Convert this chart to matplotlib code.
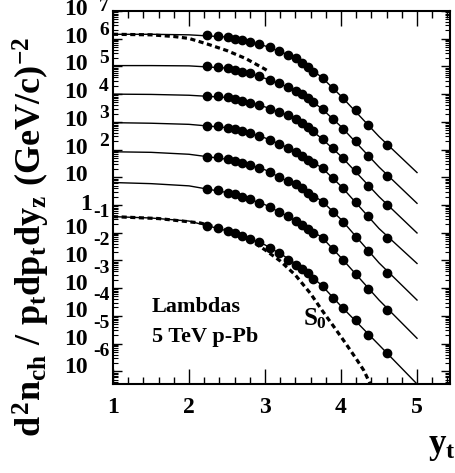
import numpy as np
import matplotlib
matplotlib.use("Agg")
import matplotlib.pyplot as plt
from matplotlib.ticker import MultipleLocator, LogLocator, NullFormatter

plt.rcParams['font.family'] = ['Liberation Serif', 'DejaVu Serif']
plt.rcParams['font.weight'] = 'bold'
plt.rcParams['mathtext.fontset'] = 'custom'
plt.rcParams['mathtext.rm'] = 'Liberation Serif:bold'
plt.rcParams['mathtext.it'] = 'Liberation Serif:bold'
plt.rcParams['mathtext.bf'] = 'Liberation Serif:bold'

# transverse rapidity of the data points (same bins for every spectrum)
yt_points = [2.24, 2.38, 2.51, 2.61, 2.70, 2.80, 2.92, 3.07, 3.18, 3.30,
             3.41, 3.49, 3.57, 3.63, 3.76, 3.89, 4.03, 4.20, 4.36, 4.61]

# log10 of the plotted (scaled) spectra, top to bottom
pts_1 = [6.12, 6.11, 6.05, 6.00, 5.95, 5.88, 5.81, 5.69, 5.56, 5.42,
         5.29, 5.14, 4.99, 4.80, 4.57, 4.22, 3.87, 3.43, 2.89, 2.15]
pts_2 = [5.01, 4.99, 4.94, 4.87, 4.81, 4.75, 4.64, 4.51, 4.39, 4.26,
         4.13, 4.01, 3.86, 3.72, 3.45, 3.11, 2.74, 2.31, 1.77, 1.05]
pts_3 = [3.94, 3.92, 3.88, 3.83, 3.77, 3.69, 3.61, 3.48, 3.36, 3.23,
         3.09, 2.95, 2.82, 2.67, 2.37, 2.05, 1.69, 1.26, 0.69, 0.00]
pts_4 = [2.85, 2.84, 2.79, 2.73, 2.67, 2.59, 2.50, 2.35, 2.20, 2.07,
         1.91, 1.77, 1.64, 1.53, 1.32, 0.96, 0.60, 0.12, -0.40, -1.20]
pts_5 = [1.74, 1.72, 1.65, 1.59, 1.53, 1.44, 1.35, 1.20, 1.02, 0.88,
         0.75, 0.60, 0.44, 0.30, 0.12, -0.25, -0.63, -1.14, -1.66, -2.44]
pts_6 = [0.57, 0.54, 0.44, 0.39, 0.30, 0.21, 0.08, -0.06, -0.24, -0.40,
         -0.57, -0.72, -0.88, -1.02, -1.20, -1.59, -1.99, -2.49, -3.03, -3.79]
pts_7 = [-0.76, -0.84, -0.94, -1.01, -1.12, -1.21, -1.34, -1.57, -1.75, -1.97,
         -2.17, -2.32, -2.47, -2.67, -2.92, -3.36, -3.71, -4.15, -4.69, -5.34]

# model curves (log10), sampled along y_t
yt_model = [1.0, 1.5, 2.0, 2.5, 2.75, 3.0, 3.25, 3.5, 3.75, 4.0, 4.5, 5.0]
fit_1 = [6.16, 6.16, 6.14, 6.06, 5.91, 5.74, 5.48, 5.12, 4.60, 3.93, 2.47, 1.17]
fit_2 = [5.03, 5.03, 5.02, 4.94, 4.78, 4.57, 4.31, 3.98, 3.47, 2.83, 1.37, 0.06]
fit_3 = [4.00, 3.99, 3.96, 3.88, 3.73, 3.54, 3.29, 2.94, 2.39, 1.76, 0.30, -1.01]
fit_4 = [2.97, 2.95, 2.91, 2.79, 2.63, 2.42, 2.13, 1.76, 1.34, 0.68, -0.85, -2.11]
fit_5 = [1.92, 1.90, 1.83, 1.65, 1.48, 1.27, 0.92, 0.56, 0.14, -0.52, -2.09, -3.43]
fit_6 = [0.81, 0.77, 0.69, 0.45, 0.25, 0.01, -0.34, -0.74, -1.17, -1.90, -3.43, -4.81]
fit_7 = [-0.42, -0.47, -0.58, -0.93, -1.16, -1.44, -1.84, -2.31, -2.91, -3.65, -5.05, -6.46]

# soft component S0 (dashed)
yt_s0_top = [1.0, 1.5, 1.8, 2.0, 2.25, 2.5, 2.75, 3.0, 3.04]
s0_top = [6.16, 6.14, 6.08, 6.01, 5.80, 5.57, 5.28, 4.90, 4.83]
yt_s0_bot = [1.0, 1.6, 2.15, 2.54, 2.80, 3.0, 3.2, 3.4, 3.6, 3.75, 3.9, 4.05, 4.2, 4.3, 4.4]
s0_bot = [-0.42, -0.49, -0.65, -0.94, -1.26, -1.62, -2.02, -2.53, -3.20, -3.80,
          -4.37, -4.95, -5.55, -5.97, -6.55]

y_exponents = [7, 6, 5, 4, 3, 2, 1, 0, -1, -2, -3, -4, -5, -6]

fig = plt.figure(figsize=(4.56, 4.73), dpi=100)
ax = fig.add_axes([113 / 456, 89 / 473, 337 / 456, 373 / 473])
ax.set_yscale('log')
ax.set_xlim(1, 5.434)
ax.set_ylim(10 ** -6.46, 1e7)

spectra = [pts_1, pts_2, pts_3, pts_4, pts_5, pts_6, pts_7]
fits = [fit_1, fit_2, fit_3, fit_4, fit_5, fit_6, fit_7]
for pts, fit in zip(spectra, fits):
    ax.plot(yt_model, 10 ** np.array(fit), color='black', lw=1.0)
    ax.plot(yt_points, 10 ** np.array(pts), 'o', color='black', ms=6.0, mec='black')

dash = (0, (1.6, 1.1))
ax.plot(yt_s0_top, 10 ** np.array(s0_top), color='black', lw=2.3, linestyle=dash)
ax.plot(yt_s0_bot, 10 ** np.array(s0_bot), color='black', lw=2.3, linestyle=dash)

# axes styling (ROOT look)
for sp in ax.spines.values():
    sp.set_linewidth(1.5)
ax.xaxis.set_major_locator(MultipleLocator(1))
ax.xaxis.set_minor_locator(MultipleLocator(0.2))
ax.yaxis.set_major_locator(LogLocator(base=10, numticks=30))
ax.yaxis.set_minor_locator(LogLocator(base=10, subs=np.arange(2, 10), numticks=30))
ax.yaxis.set_minor_formatter(NullFormatter())
ax.tick_params(axis='x', which='major', direction='in', top=True, length=10.8, width=1.0,
               labelsize=17, pad=9)
ax.tick_params(axis='x', which='minor', direction='in', top=True, length=5, width=1.0)
ax.tick_params(axis='y', which='major', direction='in', right=True, length=6.5, width=1.0,
               labelleft=False)
ax.tick_params(axis='y', which='minor', direction='in', right=True, length=3.6, width=0.8)
ax.set_xticks([1, 2, 3, 4, 5])
ax.set_xticklabels(['1', '2', '3', '4', '5'], fontweight='bold')

# y tick labels drawn as "10" plus a raised exponent
for n in y_exponents:
    yv = 10.0 ** n
    if n == 0:
        ax.annotate('1', xy=(0, yv), xycoords=('axes fraction', 'data'),
                    xytext=(-21, 0), textcoords='offset pixels',
                    ha='right', va='center', fontsize=17, fontweight='bold')
        continue
    dy = 1.5 if n > 0 else 4
    ax.annotate('10', xy=(0, yv), xycoords=('axes fraction', 'data'),
                xytext=(-25, dy), textcoords='offset pixels',
                ha='right', va='center', fontsize=17, fontweight='bold')
    if n == 1:
        continue
    if n > 0:
        ax.annotate(str(n), xy=(0, yv), xycoords=('axes fraction', 'data'),
                    xytext=(-14, 8 if n < 7 else 4), textcoords='offset pixels',
                    ha='left', va='center', fontsize=14, fontweight='bold')
    else:
        ax.annotate('-' + str(-n), xy=(0, yv), xycoords=('axes fraction', 'data'),
                    xytext=(-20, 20), textcoords='offset pixels',
                    ha='left', va='center', fontsize=14, fontweight='bold')

ax.text(0.116, 0.194, 'Lambdas', transform=ax.transAxes, fontsize=16,
        fontweight='bold', va='baseline')
ax.text(0.116, 0.113, '5 TeV p-Pb', transform=ax.transAxes, fontsize=16,
        fontweight='bold', va='baseline')
ax.text(3.5, 10 ** -4.33, r'$S_0$', fontsize=18, va='baseline')

fig.text(0.068, 0.50, r'$d^2n_{ch}\ /\ p_tdp_tdy_z\ (GeV/c)^{-2}$', rotation=90,
         ha='center', va='center', fontsize=26)
fig.text(0.998, 0.042, r'$y_t$', ha='right', va='baseline', fontsize=25)

fig.savefig('out.png', dpi=100)
